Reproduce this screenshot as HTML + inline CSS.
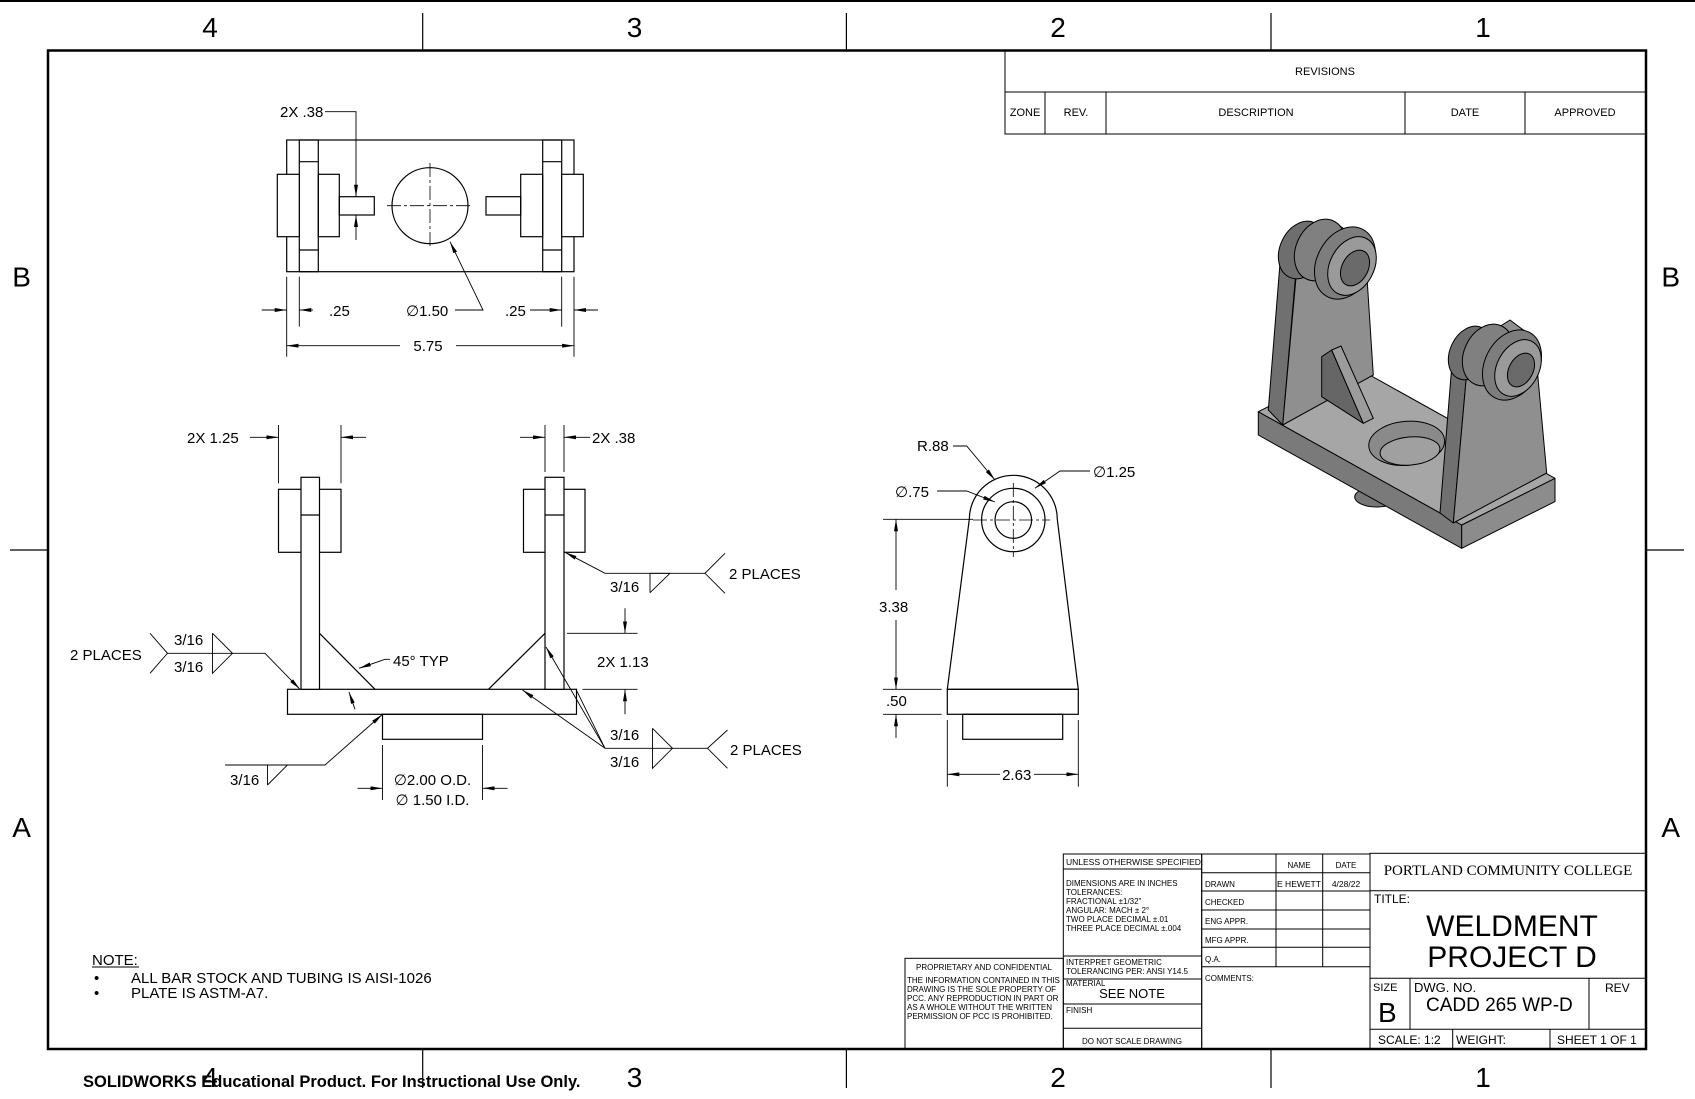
<!DOCTYPE html>
<html><head><meta charset="utf-8"><style>
html,body{margin:0;padding:0;background:#fff;}
svg{display:block;}
text{font-family:"Liberation Sans",sans-serif;fill:#000;}
</style></head><body>
<svg width="1695" height="1099" viewBox="0 0 1695 1099" xmlns="http://www.w3.org/2000/svg">
<defs>
<marker id="a" viewBox="0 0 12 4" refX="12" refY="2" markerWidth="12" markerHeight="4" markerUnits="userSpaceOnUse" orient="auto"><path d="M0,0L12,2L0,4z" fill="#000"/></marker>
</defs>
<rect width="1695" height="1099" fill="#fff"/>
<!-- frame -->
<line x1="0" y1="1" x2="1695" y2="1" stroke="#000" stroke-width="2"/>
<rect x="48" y="50.5" width="1598" height="998.5" fill="none" stroke="#000" stroke-width="2.5"/>
<g stroke="#000" stroke-width="1.2">
<line x1="422.7" y1="13" x2="422.7" y2="50"/><line x1="846.4" y1="13" x2="846.4" y2="50"/><line x1="1271" y1="13" x2="1271" y2="50"/>
<line x1="422.7" y1="1049" x2="422.7" y2="1088"/><line x1="846.4" y1="1049" x2="846.4" y2="1088"/><line x1="1271" y1="1049" x2="1271" y2="1088"/>
<line x1="10" y1="550" x2="48" y2="550"/><line x1="1646" y1="550" x2="1684" y2="550"/>
</g>
<g font-size="28" text-anchor="middle">
<text x="210" y="37">4</text><text x="634.6" y="37">3</text><text x="1058" y="37">2</text><text x="1483" y="37">1</text>
<text x="210" y="1087">4</text><text x="634.6" y="1087">3</text><text x="1058" y="1087">2</text><text x="1483" y="1087">1</text>
<text x="21.6" y="286.7">B</text><text x="1670.7" y="286.7">B</text>
<text x="21.6" y="837">A</text><text x="1670.7" y="837">A</text>
</g>
<!-- revisions -->
<g stroke="#000" stroke-width="1" fill="none">
<rect x="1005" y="50.5" width="641" height="83.5"/>
<line x1="1005" y1="92" x2="1646" y2="92"/>
<line x1="1045" y1="92" x2="1045" y2="134"/><line x1="1106" y1="92" x2="1106" y2="134"/>
<line x1="1405" y1="92" x2="1405" y2="134"/><line x1="1525" y1="92" x2="1525" y2="134"/>
</g>
<g font-size="11" text-anchor="middle">
<text x="1325" y="75">REVISIONS</text>
<text x="1025" y="116">ZONE</text><text x="1076" y="116">REV.</text><text x="1256" y="116">DESCRIPTION</text>
<text x="1465" y="116">DATE</text><text x="1585" y="116">APPROVED</text>
</g>

<!-- TOP VIEW -->
<g stroke="#000" stroke-width="1.2" fill="none">
<rect x="286.7" y="140" width="287.3" height="131.7"/>
<rect x="299.3" y="140" width="19" height="131.7"/>
<line x1="299.3" y1="161.7" x2="318.3" y2="161.7"/><line x1="299.3" y1="250" x2="318.3" y2="250"/>
<rect x="277.3" y="174.3" width="22" height="62.4" fill="#fff"/>
<rect x="318.3" y="174.3" width="21" height="62.4"/>
<rect x="339.3" y="196.7" width="35" height="18.3"/>
<rect x="542.7" y="140" width="19" height="131.7"/>
<line x1="542.7" y1="161.7" x2="561.7" y2="161.7"/><line x1="542.7" y1="250" x2="561.7" y2="250"/>
<rect x="561.7" y="174.3" width="21.6" height="62.4" fill="#fff"/>
<rect x="520.7" y="174.3" width="22" height="62.4"/>
<rect x="486" y="196.7" width="34.7" height="18.3"/>
<circle cx="430" cy="205.7" r="38"/>
</g>
<g stroke="#000" stroke-width="0.8" stroke-dasharray="14,3,3,3">
<line x1="387" y1="205.7" x2="473" y2="205.7"/><line x1="430" y1="163" x2="430" y2="248"/>
</g>
<g stroke="#000" stroke-width="0.9" fill="none">
<polyline points="325,111.7 356,111.7 356,196.7" marker-end="url(#a)"/>
<line x1="356" y1="240" x2="356" y2="215" marker-end="url(#a)"/>
<line x1="286.7" y1="276.7" x2="286.7" y2="356.7"/><line x1="299.3" y1="276.7" x2="299.3" y2="326.7"/>
<line x1="561.7" y1="276.7" x2="561.7" y2="326.7"/><line x1="574" y1="276.7" x2="574" y2="356.7"/>
<line x1="261.7" y1="310" x2="286.7" y2="310" marker-end="url(#a)"/>
<line x1="313" y1="310" x2="299.3" y2="310" marker-end="url(#a)"/>
<line x1="530" y1="310" x2="561.7" y2="310" marker-end="url(#a)"/>
<line x1="598" y1="310" x2="574" y2="310" marker-end="url(#a)"/>
<polyline points="455,310 483,310 450,241.7" marker-end="url(#a)"/>
<line x1="400" y1="345.7" x2="286.7" y2="345.7" marker-end="url(#a)"/>
<line x1="456" y1="345.7" x2="574" y2="345.7" marker-end="url(#a)"/>
</g>
<g font-size="15">
<text x="280" y="117">2X .38</text>
<text x="329" y="316">.25</text>
<text x="406" y="316">∅1.50</text>
<text x="505" y="316">.25</text>
<text x="428" y="351" text-anchor="middle">5.75</text>
</g>

<!-- FRONT VIEW -->
<g stroke="#000" stroke-width="1.2" fill="none">
<rect x="287.5" y="689.3" width="289" height="25"/>
<rect x="382.5" y="714.3" width="100" height="25"/>
<rect x="278.5" y="489.3" width="62.5" height="63"/>
<rect x="301" y="477.3" width="18.5" height="212" fill="#fff"/>
<line x1="301" y1="515" x2="319.5" y2="515"/>
<rect x="523.5" y="489.3" width="61.5" height="63"/>
<rect x="545" y="477.3" width="19" height="212" fill="#fff"/>
<line x1="545" y1="515" x2="564" y2="515"/>
<line x1="319.5" y1="633.3" x2="375" y2="689.3"/>
<line x1="545" y1="633.3" x2="488.5" y2="689.3"/>
</g>
<g stroke="#000" stroke-width="0.9" fill="none">
<line x1="278.5" y1="425" x2="278.5" y2="483.3"/><line x1="341" y1="425" x2="341" y2="483.3"/>
<line x1="250" y1="437.3" x2="278.5" y2="437.3" marker-end="url(#a)"/>
<line x1="366" y1="437.3" x2="341" y2="437.3" marker-end="url(#a)"/>
<line x1="545" y1="425" x2="545" y2="472"/><line x1="564" y1="425" x2="564" y2="472"/>
<line x1="520" y1="437.3" x2="545" y2="437.3" marker-end="url(#a)"/>
<line x1="590" y1="437.3" x2="564" y2="437.3" marker-end="url(#a)"/>
<!-- right top weld -->
<polyline points="705,573.3 605,573.3 565,552.3" marker-end="url(#a)"/>
<polyline points="725,553.3 705,573.3 725,593.3"/>
<polyline points="650,592.7 650,573.3 670,573.3 650,592.7"/>
<!-- 2X 1.13 -->
<line x1="567" y1="633.3" x2="637.5" y2="633.3"/><line x1="582.5" y1="689.3" x2="637.5" y2="689.3"/>
<line x1="625" y1="608.3" x2="625" y2="633.3" marker-end="url(#a)"/>
<line x1="625" y1="714.3" x2="625" y2="689.3" marker-end="url(#a)"/>
<!-- left weld -->
<polyline points="150,633.3 167.5,653.3 150,673.3"/>
<polyline points="167.5,653.3 265,653.3 300,689.3" marker-end="url(#a)"/>
<polyline points="212.5,633.3 212.5,673.3 232.5,653.3 212.5,633.3"/>
<!-- 45 typ -->
<polyline points="390,659.3 385,659.3 359,668.3" marker-end="url(#a)"/>
<line x1="355" y1="709.3" x2="349" y2="692" marker-end="url(#a)"/>
<!-- lower left weld -->
<polyline points="225,765 325,765 382.5,714.3" marker-end="url(#a)"/>
<polyline points="267.5,785 267.5,765 287.5,765 267.5,785"/>
<!-- lower right weld -->
<line x1="605" y1="748.3" x2="522.5" y2="690" marker-end="url(#a)"/>
<line x1="605" y1="748.3" x2="546" y2="647" marker-end="url(#a)"/>
<line x1="605" y1="748.3" x2="576" y2="689.3"/>
<line x1="605" y1="748.3" x2="707.5" y2="748.3"/>
<polyline points="727.5,730 707.5,748.3 727.5,768.3"/>
<polyline points="652.5,728.3 652.5,768.3 672.5,748.3 652.5,728.3"/>
<!-- tube dims -->
<line x1="382.5" y1="745" x2="382.5" y2="800"/><line x1="482.5" y1="745" x2="482.5" y2="800"/>
<line x1="357.5" y1="788.3" x2="382.5" y2="788.3" marker-end="url(#a)"/>
<line x1="507.5" y1="788.3" x2="482.5" y2="788.3" marker-end="url(#a)"/>
</g>
<g font-size="15">
<text x="187" y="443">2X 1.25</text>
<text x="592" y="443">2X .38</text>
<text x="729" y="579">2 PLACES</text>
<text x="610" y="592">3/16</text>
<text x="597" y="667">2X 1.13</text>
<text x="70" y="660">2 PLACES</text>
<text x="174" y="645">3/16</text>
<text x="174" y="672">3/16</text>
<text x="393" y="666">45° TYP</text>
<text x="230" y="785">3/16</text>
<text x="610" y="740">3/16</text>
<text x="610" y="767">3/16</text>
<text x="730" y="755">2 PLACES</text>
<text x="432.5" y="785" text-anchor="middle">∅2.00 O.D.</text>
<text x="432.5" y="805" text-anchor="middle">∅ 1.50 I.D.</text>
</g>

<!-- SIDE VIEW -->
<g stroke="#000" stroke-width="1.2" fill="none">
<path d="M947.3,689.3 L969.3,519.3 A43.3,43.3 0 1 1 1057.3,519.3 L1078.3,689.3 Z"/>
<rect x="947.3" y="689.3" width="131" height="25"/>
<rect x="962.7" y="714.3" width="100" height="25"/>
<circle cx="1013.3" cy="520" r="31.7"/>
<circle cx="1013.3" cy="520" r="18.3"/>
</g>
<g stroke="#000" stroke-width="0.8" stroke-dasharray="14,3,3,3">
<line x1="973" y1="520" x2="1050" y2="520"/><line x1="1013.3" y1="483" x2="1013.3" y2="557"/>
</g>
<g stroke="#000" stroke-width="0.9" fill="none">
<line x1="883" y1="519.3" x2="973" y2="519.3"/>
<line x1="883" y1="689.3" x2="941.7" y2="689.3"/><line x1="883" y1="714.3" x2="941.7" y2="714.3"/>
<line x1="896" y1="590" x2="896" y2="519.3" marker-end="url(#a)"/>
<line x1="896" y1="620" x2="896" y2="689.3" marker-end="url(#a)"/>
<line x1="896" y1="738" x2="896" y2="714.3" marker-end="url(#a)"/>
<line x1="947.3" y1="720" x2="947.3" y2="786.7"/><line x1="1078.3" y1="720" x2="1078.3" y2="786.7"/>
<line x1="1000" y1="774.3" x2="947.3" y2="774.3" marker-end="url(#a)"/>
<line x1="1034" y1="774.3" x2="1078.3" y2="774.3" marker-end="url(#a)"/>
<polyline points="953,446 966.7,446 995,480" marker-end="url(#a)"/>
<polyline points="937,491 966.7,491 995,502" marker-end="url(#a)"/>
<polyline points="1090,471 1060,471 1035,488.3" marker-end="url(#a)"/>
</g>
<g font-size="15">
<text x="917" y="451">R.88</text>
<text x="895" y="497">∅.75</text>
<text x="1093" y="477">∅1.25</text>
<text x="879" y="612">3.38</text>
<text x="886" y="706">.50</text>
<text x="1016.7" y="780" text-anchor="middle">2.63</text>
</g>

<!-- ISOMETRIC -->
<g stroke="#000" stroke-width="1" stroke-linejoin="round">
<ellipse cx="1376.7" cy="497" rx="22" ry="10" fill="#777"/>
<polygon points="1258.3,411.7 1461.7,525 1461.7,548.3 1258.3,435" fill="#7a7a7a"/>
<polygon points="1461.7,525 1555,478.3 1555,501.6 1461.7,548.3" fill="#8c8c8c"/>
<polygon points="1258.3,411.7 1351.7,365 1555,478.3 1461.7,525" fill="#a6a6a6"/>
<ellipse cx="1406.7" cy="443.3" rx="38" ry="22" transform="rotate(-5 1406.7 443.3)" fill="#8a8a8a"/>
<ellipse cx="1410" cy="451" rx="30" ry="14" transform="rotate(-5 1410 451)" fill="#a0a0a0"/>
<polygon points="1268.3,410 1280,263 1296.7,263 1282.7,425" fill="#707070"/>
<polygon points="1282.7,425 1296.7,270 1310,240 1340,226 1360,240 1366,262 1373.3,375" fill="#8f8f8f"/>
<ellipse cx="1302" cy="250" rx="22" ry="30" transform="rotate(25 1302 250)" fill="#6e6e6e"/>
<ellipse cx="1320" cy="250" rx="24" ry="32" transform="rotate(25 1320 250)" fill="#808080"/>
<ellipse cx="1345" cy="263" rx="28" ry="38" transform="rotate(28 1345 263)" fill="#7d7d7d"/>
<ellipse cx="1352" cy="266" rx="22" ry="31" transform="rotate(28 1352 266)" fill="#9a9a9a"/>
<ellipse cx="1355" cy="268" rx="13" ry="19" transform="rotate(28 1355 268)" fill="#6a6a6a"/>
<polygon points="1321.7,356.7 1321.7,396.7 1363.3,423.3 1331.7,350" fill="#666"/>
<polygon points="1331.7,350 1341,346 1373.3,418.3 1363.3,423.3" fill="#9c9c9c"/>
<polygon points="1440,513 1451.7,367 1466.7,373 1453.3,523" fill="#707070"/>
<polygon points="1453.3,523 1466.7,373 1483,337 1510,320 1530,335 1537,367 1546.7,473" fill="#8f8f8f"/>
<ellipse cx="1470" cy="353" rx="20" ry="28" transform="rotate(25 1470 353)" fill="#6e6e6e"/>
<ellipse cx="1488" cy="355" rx="24" ry="32" transform="rotate(25 1488 355)" fill="#808080"/>
<ellipse cx="1512" cy="365" rx="27" ry="37" transform="rotate(28 1512 365)" fill="#7d7d7d"/>
<ellipse cx="1518" cy="368" rx="21" ry="30" transform="rotate(28 1518 368)" fill="#9a9a9a"/>
<ellipse cx="1521" cy="370" rx="12" ry="18" transform="rotate(28 1521 370)" fill="#6a6a6a"/>
</g>

<!-- NOTE -->
<g font-size="15">
<text x="92" y="965">NOTE:</text>
<line x1="92" y1="967" x2="139" y2="967" stroke="#000" stroke-width="1"/>
<text x="94" y="983">•</text><text x="131" y="983">ALL BAR STOCK AND TUBING IS AISI-1026</text>
<text x="94" y="998">•</text><text x="131" y="998">PLATE IS ASTM-A7.</text>
</g>
<text x="83" y="1087" font-size="16.5" font-weight="bold">SOLIDWORKS Educational Product. For Instructional Use Only.</text>

<!-- TITLE BLOCK -->
<g stroke="#000" stroke-width="1" fill="none">
<rect x="905" y="958.3" width="158.3" height="91"/>
<rect x="1063.3" y="854" width="138.4" height="195"/>
<line x1="1063.3" y1="869" x2="1201.7" y2="869"/>
<line x1="1063.3" y1="956" x2="1201.7" y2="956"/>
<line x1="1063.3" y1="979" x2="1201.7" y2="979"/>
<line x1="1063.3" y1="1004" x2="1201.7" y2="1004"/>
<line x1="1063.3" y1="1028.3" x2="1201.7" y2="1028.3"/>
<rect x="1201.7" y="854" width="168.3" height="195"/>
<line x1="1201.7" y1="872.7" x2="1370" y2="872.7"/>
<line x1="1201.7" y1="891" x2="1370" y2="891"/>
<line x1="1201.7" y1="910" x2="1370" y2="910"/>
<line x1="1201.7" y1="929" x2="1370" y2="929"/>
<line x1="1201.7" y1="947.3" x2="1370" y2="947.3"/>
<line x1="1201.7" y1="966.7" x2="1370" y2="966.7"/>
<line x1="1276" y1="854" x2="1276" y2="966.7"/>
<line x1="1322.7" y1="854" x2="1322.7" y2="966.7"/>
<rect x="1370" y="853.3" width="276" height="195.7"/>
<line x1="1370" y1="890.7" x2="1646" y2="890.7"/>
<line x1="1370" y1="978.3" x2="1646" y2="978.3"/>
<line x1="1370" y1="1029.3" x2="1646" y2="1029.3"/>
<line x1="1410" y1="978.3" x2="1410" y2="1029.3"/>
<line x1="1589" y1="978.3" x2="1589" y2="1029.3"/>
<line x1="1452.7" y1="1029.3" x2="1452.7" y2="1049"/>
<line x1="1550" y1="1029.3" x2="1550" y2="1049"/>
</g>
<g font-size="8">
<text x="984" y="970" text-anchor="middle">PROPRIETARY AND CONFIDENTIAL</text>
<text x="907" y="983">THE INFORMATION CONTAINED IN THIS</text>
<text x="907" y="992">DRAWING IS THE SOLE PROPERTY OF</text>
<text x="907" y="1001">PCC.  ANY REPRODUCTION IN PART OR</text>
<text x="907" y="1010">AS A WHOLE WITHOUT THE WRITTEN</text>
<text x="907" y="1019">PERMISSION OF PCC IS PROHIBITED.</text>
<text x="1066" y="865" font-size="8.5">UNLESS OTHERWISE SPECIFIED:</text>
<text x="1066" y="886">DIMENSIONS ARE IN INCHES</text>
<text x="1066" y="895">TOLERANCES:</text>
<text x="1066" y="904">FRACTIONAL ±1/32"</text>
<text x="1066" y="913">ANGULAR: MACH ± 2°</text>
<text x="1066" y="922">TWO PLACE DECIMAL    ±.01</text>
<text x="1066" y="931">THREE PLACE DECIMAL  ±.004</text>
<text x="1066" y="965">INTERPRET GEOMETRIC</text>
<text x="1066" y="974">TOLERANCING PER: ANSI Y14.5</text>
<text x="1066" y="986">MATERIAL</text>
<text x="1066" y="1013">FINISH</text>
<text x="1132" y="1044" text-anchor="middle">DO NOT SCALE DRAWING</text>
<text x="1205" y="887">DRAWN</text>
<text x="1205" y="905">CHECKED</text>
<text x="1205" y="924">ENG APPR.</text>
<text x="1205" y="943">MFG APPR.</text>
<text x="1205" y="962">Q.A.</text>
<text x="1205" y="981">COMMENTS:</text>
<text x="1299" y="868" text-anchor="middle">NAME</text>
<text x="1346" y="868" text-anchor="middle">DATE</text>
<text x="1299" y="887" text-anchor="middle" font-size="8.5">E HEWETT</text>
<text x="1346" y="887" text-anchor="middle" font-size="8.5">4/28/22</text>
</g>
<text x="1132" y="998" font-size="13" text-anchor="middle">SEE NOTE</text>
<text x="1508" y="875" font-size="15" text-anchor="middle" style="font-family:'Liberation Serif',serif">PORTLAND COMMUNITY COLLEGE</text>
<text x="1374" y="903" font-size="12">TITLE:</text>
<text x="1512" y="936" font-size="30" text-anchor="middle">WELDMENT</text>
<text x="1512" y="967" font-size="30" text-anchor="middle">PROJECT D</text>
<text x="1373" y="991" font-size="11">SIZE</text>
<text x="1378" y="1022" font-size="28">B</text>
<text x="1414" y="992" font-size="13">DWG.  NO.</text>
<text x="1426" y="1011" font-size="19">CADD 265 WP-D</text>
<text x="1605" y="992" font-size="12">REV</text>
<text x="1378" y="1044" font-size="12">SCALE: 1:2</text>
<text x="1456" y="1044" font-size="12">WEIGHT:</text>
<text x="1557" y="1044" font-size="12">SHEET 1 OF 1</text>
</svg>
</body></html>
